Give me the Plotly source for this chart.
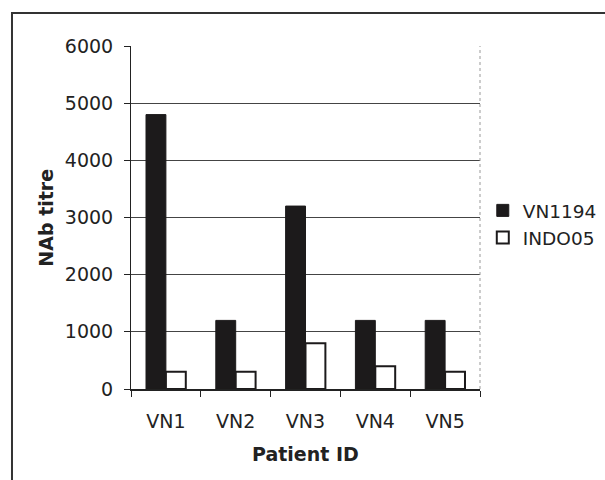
import plotly.graph_objects as go

patients = ["VN1", "VN2", "VN3", "VN4", "VN5"]
vn1194 = [4800, 1200, 3200, 1200, 1200]
indo05 = [300, 300, 800, 400, 300]
y_ticks = [0, 1000, 2000, 3000, 4000, 5000, 6000]

FONT = "DejaVu Sans"
FS = 19

fig = go.Figure()
fig.add_trace(go.Bar(x=patients, y=vn1194, name="VN1194",
                     marker=dict(color="#1c1a1b", line=dict(color="#1c1a1b", width=1))))
fig.add_trace(go.Bar(x=patients, y=indo05, name="INDO05",
                     marker=dict(color="white", line=dict(color="#1c1a1b", width=2))))

fig.update_layout(
    width=605, height=480,
    margin=dict(l=131, r=125, t=46, b=91, autoexpand=False),
    paper_bgcolor="white", plot_bgcolor="white",
    barmode="group", bargap=0.43, bargroupgap=0,
    font=dict(family=FONT, size=FS, color="#222"),
    showlegend=True,
    legend=dict(x=1.008, y=0.48, xanchor="left", yanchor="middle",
                font=dict(family=FONT, size=18.5, color="#222"),
                bgcolor="rgba(0,0,0,0)", tracegroupgap=0, itemwidth=30),
)
fig.update_xaxes(
    showline=True, linecolor="#222", linewidth=1.5,
    ticks="outside", ticklen=6, tickcolor="#222", tickwidth=1,
    tickson="boundaries", ticklabelstandoff=14,
    showgrid=False, zeroline=False,
)
fig.update_yaxes(
    range=[0, 6000], tickvals=y_ticks,
    showline=True, linecolor="#222", linewidth=1,
    ticks="outside", ticklen=6, tickcolor="#222", tickwidth=1,
    ticklabelstandoff=7,
    showgrid=True, gridcolor="#444", gridwidth=1, zeroline=False,
)

# right border of plot area (light dotted)
fig.add_shape(type="line", xref="paper", yref="paper", x0=1, x1=1, y0=0, y1=1,
              line=dict(color="#999", width=1, dash="dot"))
# outer frame (extends beyond the visible area on right and bottom)
fig.add_shape(type="rect", xref="paper", yref="paper",
              x0=-0.341, x1=1.6, y0=-0.5, y1=1.096,
              line=dict(color="#333", width=2), layer="below")

fig.add_annotation(text="<b>NAb titre</b>", xref="paper", yref="paper",
                   x=-0.246, y=0.5, xanchor="center", yanchor="middle",
                   textangle=-90, showarrow=False, font=dict(family=FONT, size=FS, color="#222"))
fig.add_annotation(text="<b>Patient ID</b>", xref="paper", yref="paper",
                   x=0.501, y=-0.19, xanchor="center", yanchor="middle",
                   showarrow=False, font=dict(family=FONT, size=FS, color="#222"))

fig.write_html("out.html")
